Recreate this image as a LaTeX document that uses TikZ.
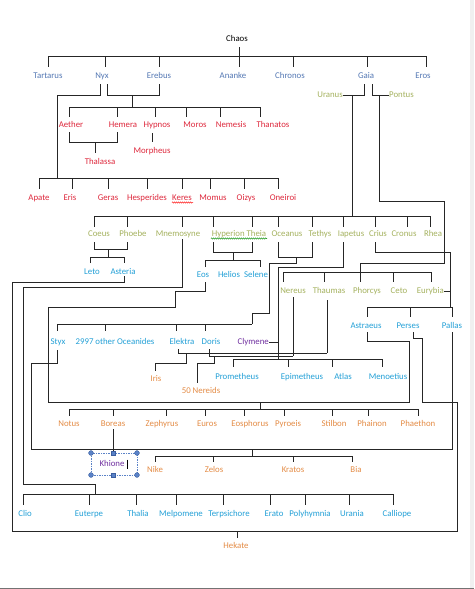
\documentclass[tikz,border=0pt]{standalone}
\usepackage{fontspec}
\setmainfont{Carlito}
\usetikzlibrary{decorations.pathmorphing}
\definecolor{primo}{RGB}{84,120,180}
\definecolor{nyxred}{RGB}{222,40,60}
\definecolor{olivec}{RGB}{165,178,95}
\definecolor{cyanb}{RGB}{35,160,215}
\definecolor{purp}{RGB}{112,48,160}
\definecolor{orng}{RGB}{228,140,70}
\definecolor{selb}{RGB}{90,130,200}
\definecolor{seld}{RGB}{60,95,160}
\begin{document}
\begin{tikzpicture}[x=1pt,y=-1pt,
  lbl/.style={font=\fontsize{8.8}{10}\selectfont, inner sep=0pt, text height=6pt, text depth=2pt, anchor=center},
  conn/.style={draw=black!85, line width=0.9pt},
  handle/.style={fill=selb, draw=seld, line width=0.4pt}]
\useasboundingbox (0,0) rectangle (474,589);
\fill[white] (0,0) rectangle (474,589);
\fill[black!6] (470,0) rectangle (474,589);
\draw[black!55, line width=1pt] (0,588.5) -- (474,588.5);

% ---------- Chaos ----------
\node[lbl] (chaos) at (237,39) {Chaos};
\draw[conn] (239,47) -- (239,56);
\draw[conn] (48,56) -- (426,56);
\foreach \x in {48,105,159,239,293,367,426} \draw[conn] (\x,56) -- (\x,67);
\foreach \n/\x/\t in {tartarus/48/Tartarus, nyx/102/Nyx, erebus/159/Erebus, ananke/233/Ananke, chronos/290/Chronos, gaia/366/Gaia, eros/423/Eros}
  \node[lbl, text=primo] (\n) at (\x,76) {\t};

% ---------- Nyx and Erebus ----------
\draw[conn] (100,84) -- (100,95) -- (57,95) -- (57,178);
\draw[conn] (107,84) -- (107,95) -- (159,95) -- (159,84);
\draw[conn] (132,95) -- (132,107);
\draw[conn] (69,107) -- (260,107);
\foreach \x in {69,117,155,186,220,260} \draw[conn] (\x,107) -- (\x,117);
\foreach \n/\x/\t in {aether/71/Aether, hemera/123/Hemera, hypnos/157/Hypnos, moros/195/Moros, nemesis/231/Nemesis, thanatos/273/Thanatos}
  \node[lbl, text=nyxred] (\n) at (\x,125) {\t};
\draw[conn] (69,132) -- (69,142) -- (117,142) -- (117,132);
\draw[conn] (95,142) -- (95,153);
\node[lbl, text=nyxred] (thalassa) at (100,162) {Thalassa};
\draw[conn] (152,133) -- (152,142);
\node[lbl, text=nyxred] (morpheus) at (152,151) {Morpheus};
\draw[conn] (39,178) -- (278,178);
\foreach \x in {39,72,108,147,182,210,244,278} \draw[conn] (\x,178) -- (\x,189);
\foreach \n/\x/\t in {apate/39/Apate, eris/70/Eris, geras/108/Geras, hesperides/147/Hesperides, keres/182/Keres, momus/213/Momus, oizys/246/Oizys, oneiroi/283/Oneiroi}
  \node[lbl, text=nyxred] (\n) at (\x,198) {\t};
\draw[red, line width=0.5pt, decorate, decoration={snake, amplitude=0.6pt, segment length=2pt}] (172,202.5) -- (193,202.5);

% ---------- Gaia, Uranus, Pontus ----------
\node[lbl, text=olivec, anchor=east] (uranus) at (343,95) {Uranus};
\node[lbl, text=olivec, anchor=west] (pontus) at (389,95) {Pontus};
\draw[conn] (364,84) -- (364,95) -- (uranus.east);
\draw[conn] (352,95) -- (352,216);
\draw[conn] (372,84) -- (372,95) -- (pontus.west);
\draw[conn] (379,95) -- (379,201) -- (444,201) -- (444,263) -- (360,263) -- (360,282);

% ---------- Titans ----------
\draw[conn] (94,216) -- (430,216);
\foreach \x in {94,127,182,213,252,278,312,343,375,407,430} \draw[conn] (\x,216) -- (\x,227);
\foreach \n/\x/\t in {coeus/99/Coeus, phoebe/133/Phoebe, mnemosyne/178/Mnemosyne, hyptheia/239/Hyperion Theia, oceanus/287/Oceanus, tethys/320/Tethys, iapetus/351/Iapetus, crius/378/Crius, cronus/404/Cronus, rhea/433/Rhea}
  \node[lbl, text=olivec] (\n) at (\x,234) {\t};
\draw[green!55!black, line width=0.5pt, decorate, decoration={snake, amplitude=0.6pt, segment length=2pt}] (211,238.5) -- (267,238.5);

% Coeus + Phoebe
\draw[conn] (94,242) -- (94,249) -- (127,249) -- (127,242);
\draw[conn] (108,249) -- (108,257);
\draw[conn] (90,263) -- (90,257) -- (124,257) -- (124,263);
\node[lbl, text=cyanb] (leto) at (92,272) {Leto};
\node[lbl, text=cyanb] (asteria) at (123,272) {Asteria};

% Hyperion + Theia
\draw[conn] (213,242) -- (213,252) -- (252,252) -- (252,242);
\draw[conn] (233,252) -- (233,260);
\draw[conn] (205,267) -- (205,260) -- (260,260) -- (260,267);
\node[lbl, text=cyanb] (eos) at (203,275) {Eos};
\node[lbl, text=cyanb] (helios) at (229,275) {Helios};
\node[lbl, text=cyanb] (selene) at (256,275) {Selene};

% Oceanus + Tethys
\draw[conn] (278,242) -- (278,257) -- (312,257) -- (312,242);
\draw[conn] (296,257) -- (296,263) -- (269,263) -- (269,313) -- (252,313) -- (252,324);
\draw[conn] (57,324) -- (252,324);
\foreach \x in {57,105,176,205} \draw[conn] (\x,324) -- (\x,331);
\node[lbl, text=cyanb] (styx) at (58,342) {Styx};
\node[lbl, text=cyanb] (oceanides) at (115,342) {2997 other Oceanides};
\node[lbl, text=cyanb] (elektra) at (182,342) {Elektra};
\node[lbl, text=cyanb] (doris) at (211,342) {Doris};

% Iapetus + Clymene
\node[lbl, text=purp, anchor=east] (clymene) at (269,342) {Clymene};
\draw[conn] (343,242) -- (343,267) -- (278,267) -- (278,359);
\draw[conn] (clymene.east) -- (278,342);
\draw[conn] (233,359) -- (382,359);
\foreach \x in {233,288,332,382} \draw[conn] (\x,359) -- (\x,367);
\foreach \n/\x/\t in {prometheus/237/Prometheus, epimetheus/302/Epimetheus, atlas/343/Atlas, menoetius/388/Menoetius}
  \node[lbl, text=cyanb] (\n) at (\x,377) {\t};

% Pontus + Gaia children
\draw[conn] (283,272) -- (431,272);
\foreach \x in {283,324,360,393,431} \draw[conn] (\x,272) -- (\x,282);
\foreach \n/\x/\t in {nereus/293/Nereus, thaumas/329/Thaumas, phorcys/367/Phorcys, ceto/399/Ceto}
  \node[lbl, text=olivec] (\n) at (\x,291) {\t};
\node[lbl, text=olivec, anchor=east] (eurybia) at (444,291) {Eurybia};

% Crius + Eurybia
\draw[conn] (375,242) -- (375,252) -- (450,252) -- (450,307);
\draw[conn] (eurybia.east) -- (450,291);
\draw[conn] (367,307) -- (452,307);
\foreach \x in {367,410,452} \draw[conn] (\x,307) -- (\x,317);
\node[lbl, text=cyanb] (astraeus) at (366,326) {Astraeus};
\node[lbl, text=cyanb] (perses) at (408,326) {Perses};
\node[lbl, text=cyanb] (pallas) at (452,326) {Pallas};

% Thaumas + Elektra -> Iris
\draw[conn] (327,300) -- (327,353);
\draw[conn] (178,349) -- (178,353) -- (327,353);
\draw[conn] (186,353) -- (186,363) -- (155,363) -- (155,371);
\node[lbl, text=orng] (iris) at (156,379) {Iris};

% Nereus + Doris -> 50 Nereids
\draw[conn] (293,297) -- (293,356);
\draw[conn] (209,349) -- (209,356) -- (293,356);
\draw[conn] (214,356) -- (214,363) -- (197,363) -- (197,383);
\node[lbl, text=orng] (nereids) at (201,391) {50 Nereids};

% Eos + Astraeus -> winds and stars
\draw[conn] (205,282) -- (205,291) -- (175,291) -- (175,307) -- (48,307) -- (48,402) -- (409,402) -- (409,341) -- (367,341) -- (367,332);
\draw[conn] (260,402) -- (260,409);
\draw[conn] (69,409) -- (418,409);
\foreach \x in {69,113,166,205,244,284,332,368,418} \draw[conn] (\x,409) -- (\x,416);
\foreach \n/\x/\t in {notus/69/Notus, boreas/113/Boreas, zephyrus/162/Zephyrus, euros/207/Euros, eosphorus/250/Eosphorus, pyroeis/288/Pyroeis, stilbon/334/Stilbon, phainon/372/Phainon, phaethon/418/Phaethon}
  \node[lbl, text=orng] (\n) at (\x,424) {\t};

% Asteria + Perses -> Hekate
\draw[conn] (124,276) -- (124,282) -- (12,282) -- (12,531) -- (457,531) -- (457,402) -- (422,402) -- (422,338) -- (413,338) -- (413,332);
\draw[conn] (237,531) -- (237,538);
\node[lbl, text=orng] (hekate) at (236,546) {Hekate};

% Styx + Pallas -> Nike etc.
\draw[conn] (452,332) -- (452,449) -- (31,449) -- (31,363) -- (57,363) -- (57,350);
\draw[conn] (252,449) -- (252,456);
\draw[conn] (155,456) -- (352,456);
\foreach \x in {155,213,293,352} \draw[conn] (\x,456) -- (\x,462);
\foreach \n/\x/\t in {nike/155/Nike, zelos/214/Zelos, kratos/293/Kratos, bia/356/Bia}
  \node[lbl, text=orng] (\n) at (\x,470) {\t};

% Boreas -> Khione
\draw[conn] (113,429) -- (113,453);
\draw[draw=selb, line width=0.6pt, dash pattern=on 1.5pt off 1pt] (91,453) rectangle (137,475);
\node[lbl, text=purp] (khione) at (112,464) {Khione};
\draw[black, line width=0.9pt] (127.5,459.5) -- (127.5,468.5);
\foreach \x/\y in {91/453, 137/453, 91/475, 137/475} \draw[handle] (\x,\y) circle (2.4pt);
\foreach \y in {453,475} \draw[handle] (110.7,\y-2.3) rectangle (115.3,\y+2.3);

% Mnemosyne -> Muses
\draw[conn] (182,239) -- (182,287) -- (23,287) -- (23,484) -- (95,484) -- (95,494);
\draw[conn] (23,494) -- (393,494);
\foreach \x in {23,89,136,176,223,270,305,349,393} \draw[conn] (\x,494) -- (\x,505);
\foreach \n/\x/\t in {clio/25/Clio, euterpe/89/Euterpe, thalia/138/Thalia, melpomene/181/Melpomene, terpsichore/229/Terpsichore, erato/274/Erato, polyhymnia/310/Polyhymnia, urania/352/Urania, calliope/397/Calliope}
  \node[lbl, text=cyanb] (\n) at (\x,514) {\t};
\end{tikzpicture}
\end{document}
